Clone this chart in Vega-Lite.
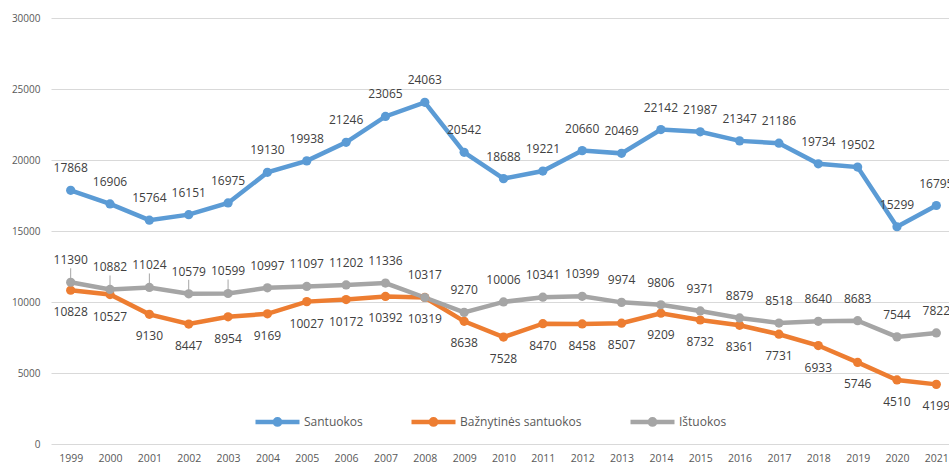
{
  "$schema": "https://vega.github.io/schema/vega-lite/v6.json",
  "width": 905,
  "height": 426,
  "autosize": {"type": "none"},
  "padding": {"left": 51, "top": 18, "right": 0, "bottom": 20},
  "background": "white",
  "config": {"view": {"stroke": null}, "font": "Open Sans"},
  "data": {"values": [
    {"year": "1999", "series": "Santuokos", "value": 17868},
    {"year": "2000", "series": "Santuokos", "value": 16906},
    {"year": "2001", "series": "Santuokos", "value": 15764},
    {"year": "2002", "series": "Santuokos", "value": 16151},
    {"year": "2003", "series": "Santuokos", "value": 16975},
    {"year": "2004", "series": "Santuokos", "value": 19130},
    {"year": "2005", "series": "Santuokos", "value": 19938},
    {"year": "2006", "series": "Santuokos", "value": 21246},
    {"year": "2007", "series": "Santuokos", "value": 23065},
    {"year": "2008", "series": "Santuokos", "value": 24063},
    {"year": "2009", "series": "Santuokos", "value": 20542},
    {"year": "2010", "series": "Santuokos", "value": 18688},
    {"year": "2011", "series": "Santuokos", "value": 19221},
    {"year": "2012", "series": "Santuokos", "value": 20660},
    {"year": "2013", "series": "Santuokos", "value": 20469},
    {"year": "2014", "series": "Santuokos", "value": 22142},
    {"year": "2015", "series": "Santuokos", "value": 21987},
    {"year": "2016", "series": "Santuokos", "value": 21347},
    {"year": "2017", "series": "Santuokos", "value": 21186},
    {"year": "2018", "series": "Santuokos", "value": 19734},
    {"year": "2019", "series": "Santuokos", "value": 19502},
    {"year": "2020", "series": "Santuokos", "value": 15299},
    {"year": "2021", "series": "Santuokos", "value": 16795},
    {"year": "1999", "series": "Bažnytinės santuokos", "value": 10828},
    {"year": "2000", "series": "Bažnytinės santuokos", "value": 10527},
    {"year": "2001", "series": "Bažnytinės santuokos", "value": 9130},
    {"year": "2002", "series": "Bažnytinės santuokos", "value": 8447},
    {"year": "2003", "series": "Bažnytinės santuokos", "value": 8954},
    {"year": "2004", "series": "Bažnytinės santuokos", "value": 9169},
    {"year": "2005", "series": "Bažnytinės santuokos", "value": 10027},
    {"year": "2006", "series": "Bažnytinės santuokos", "value": 10172},
    {"year": "2007", "series": "Bažnytinės santuokos", "value": 10392},
    {"year": "2008", "series": "Bažnytinės santuokos", "value": 10319},
    {"year": "2009", "series": "Bažnytinės santuokos", "value": 8638},
    {"year": "2010", "series": "Bažnytinės santuokos", "value": 7528},
    {"year": "2011", "series": "Bažnytinės santuokos", "value": 8470},
    {"year": "2012", "series": "Bažnytinės santuokos", "value": 8458},
    {"year": "2013", "series": "Bažnytinės santuokos", "value": 8507},
    {"year": "2014", "series": "Bažnytinės santuokos", "value": 9209},
    {"year": "2015", "series": "Bažnytinės santuokos", "value": 8732},
    {"year": "2016", "series": "Bažnytinės santuokos", "value": 8361},
    {"year": "2017", "series": "Bažnytinės santuokos", "value": 7731},
    {"year": "2018", "series": "Bažnytinės santuokos", "value": 6933},
    {"year": "2019", "series": "Bažnytinės santuokos", "value": 5746},
    {"year": "2020", "series": "Bažnytinės santuokos", "value": 4510},
    {"year": "2021", "series": "Bažnytinės santuokos", "value": 4199},
    {"year": "1999", "series": "Ištuokos", "value": 11390},
    {"year": "2000", "series": "Ištuokos", "value": 10882},
    {"year": "2001", "series": "Ištuokos", "value": 11024},
    {"year": "2002", "series": "Ištuokos", "value": 10579},
    {"year": "2003", "series": "Ištuokos", "value": 10599},
    {"year": "2004", "series": "Ištuokos", "value": 10997},
    {"year": "2005", "series": "Ištuokos", "value": 11097},
    {"year": "2006", "series": "Ištuokos", "value": 11202},
    {"year": "2007", "series": "Ištuokos", "value": 11336},
    {"year": "2008", "series": "Ištuokos", "value": 10317},
    {"year": "2009", "series": "Ištuokos", "value": 9270},
    {"year": "2010", "series": "Ištuokos", "value": 10006},
    {"year": "2011", "series": "Ištuokos", "value": 10341},
    {"year": "2012", "series": "Ištuokos", "value": 10399},
    {"year": "2013", "series": "Ištuokos", "value": 9974},
    {"year": "2014", "series": "Ištuokos", "value": 9806},
    {"year": "2015", "series": "Ištuokos", "value": 9371},
    {"year": "2016", "series": "Ištuokos", "value": 8879},
    {"year": "2017", "series": "Ištuokos", "value": 8518},
    {"year": "2018", "series": "Ištuokos", "value": 8640},
    {"year": "2019", "series": "Ištuokos", "value": 8683},
    {"year": "2020", "series": "Ištuokos", "value": 7544},
    {"year": "2021", "series": "Ištuokos", "value": 7822}
  ]},
  "encoding": {
    "x": {
      "field": "year", "type": "ordinal",
      "scale": {"type": "point", "padding": 0.5},
      "axis": {"title": null, "labelAngle": 0, "domain": false, "ticks": false, "grid": false,
               "labelFont": "Open Sans", "labelFontSize": 10.5, "labelColor": "#595959", "labelPadding": 9}
    },
    "y": {
      "field": "value", "type": "quantitative",
      "scale": {"domain": [0, 30000], "nice": false},
      "axis": {"title": null, "values": [0, 5000, 10000, 15000, 20000, 25000, 30000], "format": "d",
               "domain": false, "ticks": false, "gridColor": "#D9D9D9", "gridWidth": 1,
               "labelFont": "Open Sans", "labelFontSize": 10, "labelColor": "#595959", "labelPadding": 11}
    }
  },
  "layer": [
    {
      "transform": [{"filter": "datum.series == 'Ištuokos' && toNumber(datum.year) <= 2003"}],
      "mark": {"type": "rule", "color": "#A5A5A5", "strokeWidth": 1, "y2Offset": -14},
      "encoding": {"y2": {"field": "value"}}
    },
    {
      "mark": {"type": "line", "strokeWidth": 4.5},
      "encoding": {
        "color": {
          "field": "series", "type": "nominal",
          "sort": ["Santuokos", "Bažnytinės santuokos", "Ištuokos"],
          "scale": {"domain": ["Santuokos", "Bažnytinės santuokos", "Ištuokos"], "range": ["#5B9BD5", "#ED7D31", "#A5A5A5"]},
          "legend": {
            "orient": "none", "legendX": 202, "legendY": 379, "direction": "horizontal", "title": null,
            "symbolType": "M-1,0L1,0M-0.12,0A0.12,0.12,0,1,1,0.12,0A0.12,0.12,0,1,1,-0.12,0Z",
            "symbolSize": 1936, "symbolStrokeWidth": 4.5,
            "labelFont": "Open Sans", "labelFontSize": 12, "labelColor": "#595959", "labelOffset": 2,
            "columnPadding": 39, "labelLimit": 300,
            "encode": {"symbols": {"update": {
              "fill": {"scale": "color", "field": "value"},
              "stroke": {"scale": "color", "field": "value"},
              "strokeWidth": {"value": 4.5},
              "opacity": {"value": 1}
            }}}
          }
        }
      }
    },
    {
      "mark": {"type": "point", "filled": true, "size": 85, "opacity": 1},
      "encoding": {
        "color": {"field": "series", "type": "nominal", "sort": ["Santuokos", "Bažnytinės santuokos", "Ištuokos"]}
      }
    },
    {
      "transform": [{"filter": "datum.series != 'Bažnytinės santuokos'"}],
      "mark": {"type": "text", "dy": -22, "fontSize": 12, "font": "Open Sans", "color": "#404040", "baseline": "middle"},
      "encoding": {"text": {"field": "value", "type": "quantitative", "format": "d"}}
    },
    {
      "transform": [{"filter": "datum.series == 'Bažnytinės santuokos'"}],
      "mark": {"type": "text", "dy": 22, "fontSize": 12, "font": "Open Sans", "color": "#404040", "baseline": "middle"},
      "encoding": {"text": {"field": "value", "type": "quantitative", "format": "d"}}
    }
  ]
}
